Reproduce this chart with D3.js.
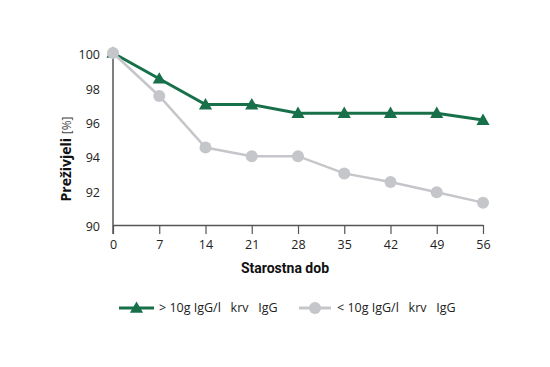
<!DOCTYPE html>
<html>
<head>
<meta charset="utf-8">
<script src="https://cdn.jsdelivr.net/npm/d3@7"></script>
<style>
  body { margin: 0; background: #fff; }
  svg { display: block; }
</style>
</head>
<body>
<div id="chart"></div>
<script>
const days = [0, 7, 14, 21, 28, 35, 42, 49, 56];
const highIgG = [100, 98.5, 97, 97, 96.5, 96.5, 96.5, 96.5, 96.1];
const lowIgG = [100, 97.5, 94.5, 94, 94, 93, 92.5, 91.9, 91.3];
const yTicks = [90, 92, 94, 96, 98, 100];
const seriesNames = ['> 10g IgG/l   krv   IgG', '< 10g IgG/l   krv   IgG'];

const width = 550;
const height = 367;
const margin = { top: 53, right: 67, bottom: 142, left: 113 };
const green = '#17704a';
const grey = '#c5c6ca';

const svg = d3.select('#chart')
    .append('svg')
    .attr('width', width)
    .attr('height', height)
    .attr('viewBox', [0, 0, width, height]);

const x = d3.scaleLinear()
    .domain([0, 56])
    .range([margin.left, width - margin.right]);

const y = d3.scaleLinear()
    .domain([90, 100])
    .range([height - margin.bottom, margin.top]);

// axes
const xAxis = svg.append('g')
    .attr('transform', `translate(0,${y(90)})`)
    .call(d3.axisBottom(x).tickValues(days).tickSize(9).tickPadding(6).tickSizeOuter(0));
xAxis.select('.domain').attr('stroke', '#555').attr('stroke-width', 1.5);
xAxis.selectAll('.tick line').attr('stroke', '#555').attr('stroke-width', 1.2);
xAxis.selectAll('.tick text')
    .attr('fill', '#222')
    .style('font-family', '"Open Sans", sans-serif')
    .style('font-size', '12.5px');

const yAxis = svg.append('g')
    .attr('transform', `translate(${margin.left},0)`)
    .call(d3.axisLeft(y).tickValues(yTicks).tickSize(0).tickPadding(13));
yAxis.select('.domain').attr('stroke', '#555').attr('stroke-width', 1.5)
    .attr('d', `M0,${y(100)}V${y(90) + 9}`);
yAxis.selectAll('.tick text')
    .attr('fill', '#222')
    .attr('dy', '0.45em')
    .style('font-family', '"Open Sans", sans-serif')
    .style('font-size', '12.5px');

// axis titles
svg.append('text')
    .attr('x', 285)
    .attr('y', 273)
    .attr('text-anchor', 'middle')
    .style('font-family', 'Roboto, sans-serif')
    .style('font-weight', 'bold')
    .style('font-size', '14px')
    .attr('fill', '#111')
    .text('Starostna dob');

const yTitle = svg.append('text')
    .attr('transform', 'translate(71,159) rotate(-90)')
    .attr('text-anchor', 'middle')
    .style('font-family', '"Open Sans", sans-serif')
    .style('font-size', '14px')
    .attr('fill', '#111');
yTitle.append('tspan').style('font-weight', 'bold').text('Preživjeli ');
yTitle.append('tspan').style('font-size', '12px').attr('fill', '#444').text('[%]');

// lines
const line = d3.line()
    .x((d, i) => x(days[i]))
    .y(d => y(d));

const triangle = d3.symbol().type(d3.symbolTriangle).size(75);

svg.append('path')
    .datum(highIgG)
    .attr('fill', 'none')
    .attr('stroke', green)
    .attr('stroke-width', 3)
    .attr('d', line);

svg.selectAll('.tri')
    .data(highIgG)
    .enter().append('path')
    .attr('class', 'tri')
    .attr('transform', (d, i) => `translate(${x(days[i])},${y(d) + 1})`)
    .attr('d', triangle)
    .attr('fill', green);

svg.append('path')
    .datum(lowIgG)
    .attr('fill', 'none')
    .attr('stroke', grey)
    .attr('stroke-width', 2.5)
    .attr('d', line);

svg.selectAll('.dot')
    .data(lowIgG)
    .enter().append('circle')
    .attr('class', 'dot')
    .attr('cx', (d, i) => x(days[i]))
    .attr('cy', d => y(d))
    .attr('r', 6)
    .attr('fill', grey);

// legend
const legendY = 308;
const legend = [
    { name: seriesNames[0], color: green, x0: 119, x1: 154, tx: 159, mark: 'tri' },
    { name: seriesNames[1], color: grey, x0: 299, x1: 331, tx: 337, mark: 'dot' }
];
legend.forEach(l => {
    svg.append('line')
        .attr('x1', l.x0).attr('x2', l.x1)
        .attr('y1', legendY).attr('y2', legendY)
        .attr('stroke', l.color)
        .attr('stroke-width', 3);
    if (l.mark === 'tri') {
        svg.append('path')
            .attr('transform', `translate(${(l.x0 + l.x1) / 2},${legendY + 1})`)
            .attr('d', triangle)
            .attr('fill', l.color);
    } else {
        svg.append('circle')
            .attr('cx', (l.x0 + l.x1) / 2)
            .attr('cy', legendY)
            .attr('r', 6)
            .attr('fill', l.color);
    }
    svg.append('text')
        .attr('x', l.tx)
        .attr('y', legendY)
        .attr('dy', '0.35em')
        .style('font-family', '"Open Sans", sans-serif')
        .style('font-size', '12.5px')
        .style('white-space', 'pre')
        .attr('fill', '#222')
        .text(l.name);
});
</script>
</body>
</html>
